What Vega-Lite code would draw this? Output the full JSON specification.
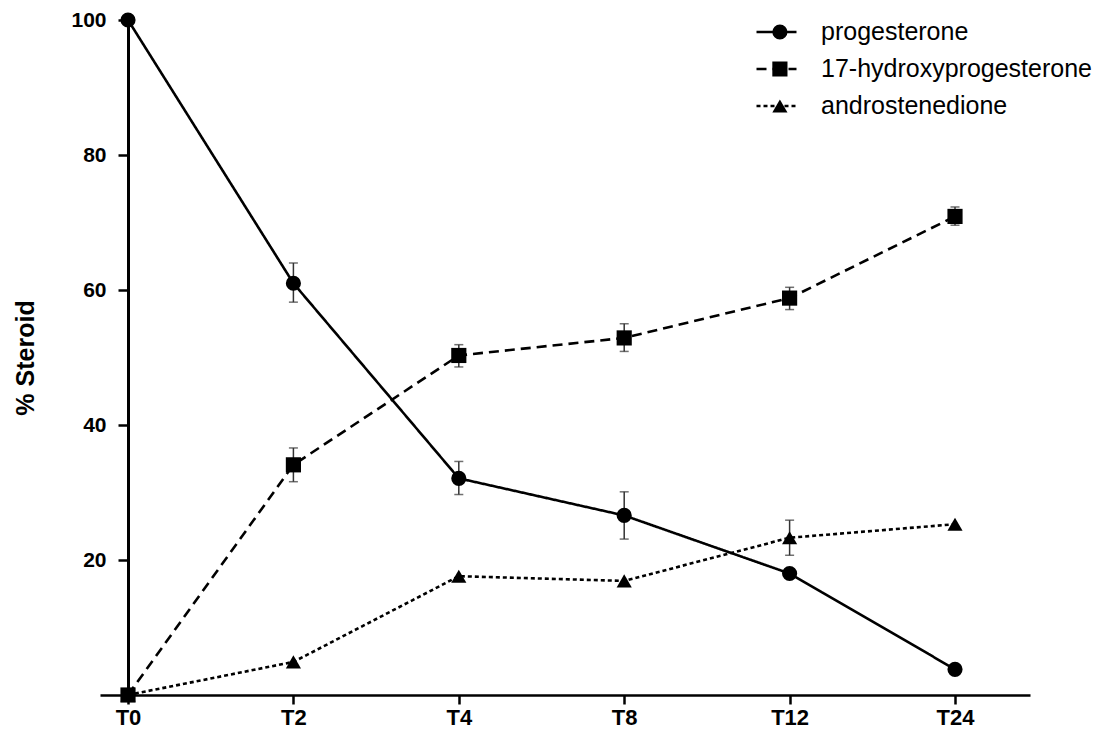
{
  "$schema": "https://vega.github.io/schema/vega-lite/v6.json",
  "width": 930,
  "height": 675,
  "autosize": {"type": "none"},
  "padding": {"left": 100, "top": 20, "right": 69, "bottom": 37},
  "background": "white",
  "config": {
    "view": {"stroke": null},
    "axis": {"grid": false, "domainColor": "black", "tickColor": "black", "labelColor": "black", "titleColor": "black", "labelFont": "Liberation Sans", "titleFont": "Liberation Sans"},
    "legend": {"labelFont": "Liberation Sans"}
  },
  "data": {
    "values": [
      {"series": "progesterone", "t": 0, "value": 100, "lo": null, "hi": null},
      {"series": "progesterone", "t": 1, "value": 61.0, "lo": 58.2, "hi": 64.0},
      {"series": "progesterone", "t": 2, "value": 32.1, "lo": 29.7, "hi": 34.6},
      {"series": "progesterone", "t": 3, "value": 26.6, "lo": 23.1, "hi": 30.1},
      {"series": "progesterone", "t": 4, "value": 18.0, "lo": null, "hi": null},
      {"series": "progesterone", "t": 5, "value": 3.8, "lo": null, "hi": null},
      {"series": "17-hydroxyprogesterone", "t": 0, "value": 0, "lo": null, "hi": null},
      {"series": "17-hydroxyprogesterone", "t": 1, "value": 34.1, "lo": 31.6, "hi": 36.6},
      {"series": "17-hydroxyprogesterone", "t": 2, "value": 50.3, "lo": 48.6, "hi": 51.9},
      {"series": "17-hydroxyprogesterone", "t": 3, "value": 52.9, "lo": 50.9, "hi": 55.0},
      {"series": "17-hydroxyprogesterone", "t": 4, "value": 58.8, "lo": 57.1, "hi": 60.4},
      {"series": "17-hydroxyprogesterone", "t": 5, "value": 70.9, "lo": 69.6, "hi": 72.3},
      {"series": "androstenedione", "t": 0, "value": 0, "lo": null, "hi": null},
      {"series": "androstenedione", "t": 1, "value": 4.9, "lo": null, "hi": null},
      {"series": "androstenedione", "t": 2, "value": 17.6, "lo": null, "hi": null},
      {"series": "androstenedione", "t": 3, "value": 16.9, "lo": null, "hi": null},
      {"series": "androstenedione", "t": 4, "value": 23.3, "lo": 20.7, "hi": 25.9},
      {"series": "androstenedione", "t": 5, "value": 25.3, "lo": null, "hi": null}
    ]
  },
  "encoding": {
    "x": {
      "field": "t", "type": "quantitative",
      "scale": {"domain": [-0.1693, 5.4534], "nice": false, "zero": false},
      "axis": {
        "title": null, "values": [0, 1, 2, 3, 4, 5],
        "labelExpr": "['T0','T2','T4','T8','T12','T24'][datum.value]",
        "labelFontSize": 22, "labelFontWeight": "bold", "labelPadding": 3,
        "tickSize": 9, "tickWidth": 2.5, "domainWidth": 2.5
      }
    },
    "y": {
      "field": "value", "type": "quantitative",
      "scale": {"domain": [0, 100], "nice": false},
      "axis": {
        "title": "% Steroid", "values": [20, 40, 60, 80, 100], "offset": -28,
        "labelFontSize": 21, "labelFontWeight": "bold", "labelPadding": 12,
        "tickSize": 10, "tickWidth": 2.5, "domainWidth": 3,
        "titleFontSize": 25, "titleFontWeight": "bold", "titleX": -103, "titleY": 337.5,
        "titleBaseline": "middle", "titleAlign": "center", "titleAngle": -90
      }
    }
  },
  "layer": [
    {
      "mark": {"type": "line", "color": "black", "strokeWidth": 2.6},
      "encoding": {
        "strokeDash": {
          "field": "series", "type": "nominal",
          "scale": {"domain": ["progesterone", "17-hydroxyprogesterone", "androstenedione"], "range": [[1, 0], [10, 6], [4, 3]]},
          "legend": {
            "title": null, "orient": "none", "legendX": 655, "legendY": -6.5,
            "symbolSize": 1600, "symbolStrokeWidth": 2.6, "symbolStrokeColor": "black",
            "clipHeight": 37, "rowPadding": 0, "padding": 0,
            "labelFontSize": 25, "labelOffset": 23, "labelColor": "black", "labelLimit": 400
          }
        }
      }
    },
    {
      "transform": [{"filter": "isValid(datum.lo)"}],
      "mark": {"type": "errorbar", "ticks": {"size": 9, "thickness": 1.5, "color": "#333"}, "rule": {"strokeWidth": 1.5, "color": "#333"}},
      "encoding": {
        "y": {"field": "lo", "type": "quantitative", "title": "% Steroid"},
        "y2": {"field": "hi"}
      }
    },
    {
      "mark": {"type": "point", "filled": true, "color": "black", "opacity": 1, "size": 230},
      "encoding": {
        "shape": {
          "field": "series", "type": "nominal",
          "sort": ["progesterone", "17-hydroxyprogesterone", "androstenedione"],
          "scale": {"range": ["circle", "square", "triangle-up"]},
          "legend": {
            "title": null, "orient": "none", "legendX": 667.4, "legendY": -6.5,
            "symbolSize": 230, "symbolFillColor": "black", "symbolOpacity": 1,
            "clipHeight": 37, "rowPadding": 0, "padding": 0,
            "labelFontSize": 25, "labelExpr": "''", "labelLimit": 400
          }
        }
      }
    }
  ]
}
